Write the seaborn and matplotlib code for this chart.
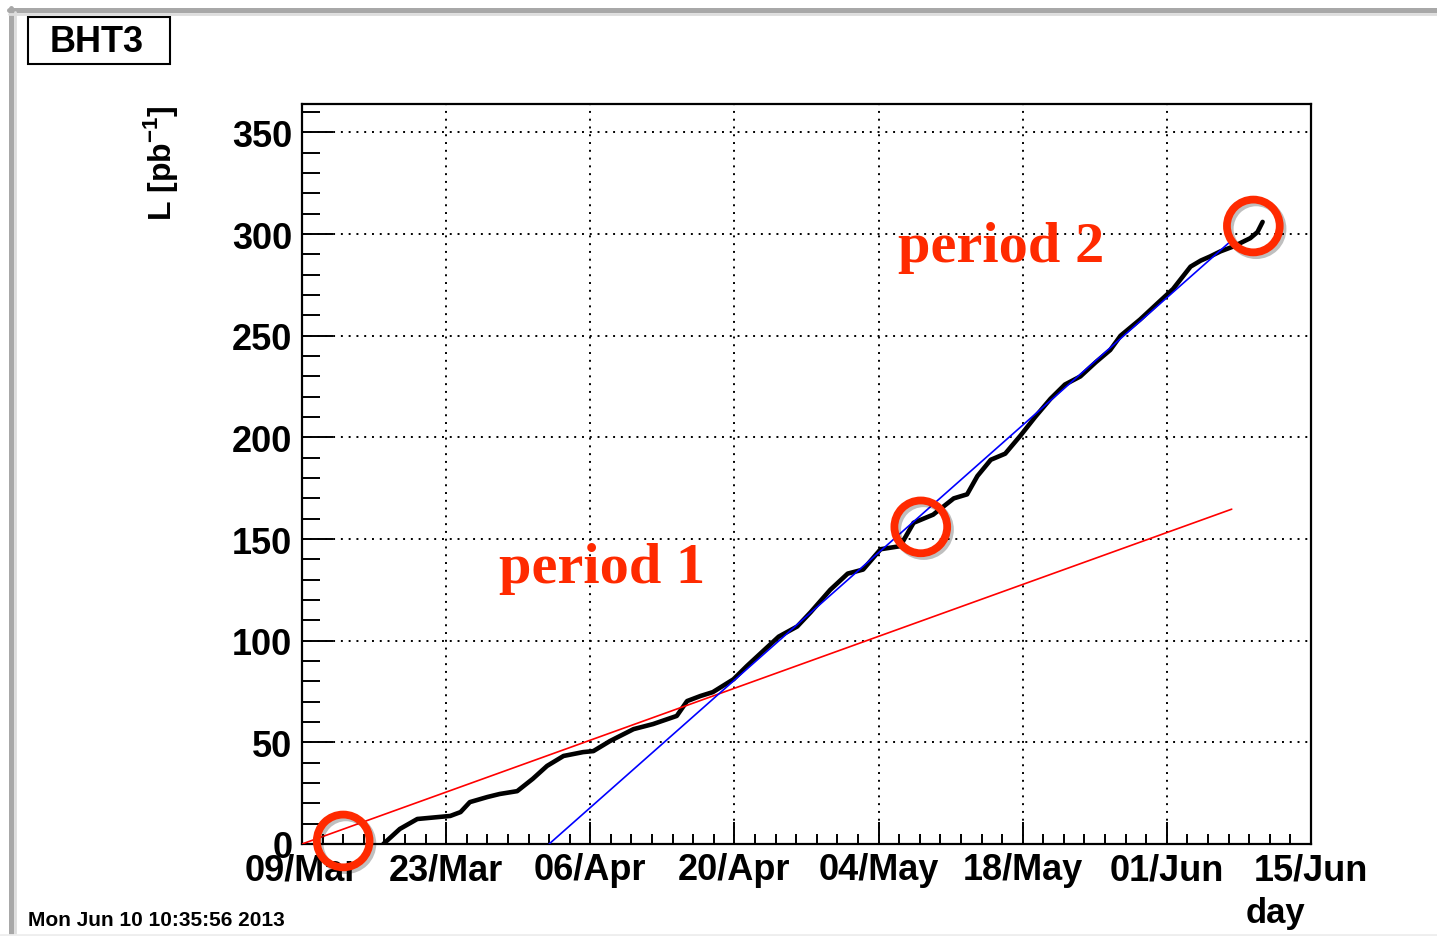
import matplotlib
matplotlib.use('Agg')
import matplotlib.pyplot as plt
import matplotlib.patheffects as pe
from matplotlib.lines import Line2D
from matplotlib.patches import Rectangle
from matplotlib.ticker import MultipleLocator
import numpy as np
import pandas as pd
import seaborn as sns

# cumulative luminosity, days counted from 09/Mar
days = [7.9, 9.5, 11.2, 14.4, 15.4, 16.3, 18.0, 19.2, 20.9, 22.4, 23.8, 25.4,
        27.3, 28.3, 29.9, 32.2, 34.1, 36.4, 37.4, 38.7, 39.9, 41.9, 43.2, 46.3,
        48.1, 49.4, 51.3, 53.0, 54.5, 56.2, 58.1, 59.4, 61.3, 63.3, 64.6, 65.6,
        66.9, 68.3, 69.8, 71.2, 72.7, 74.1, 75.6, 77.1, 78.5, 79.5, 81.4, 83.1,
        84.6, 86.3, 87.3, 88.2, 89.2, 90.5, 92.1, 92.8, 93.3]
lumi = [0, 7.4, 12.3, 13.8, 15.7, 20.6, 23.1, 24.6, 26.0, 32.0, 38.4, 43.3,
        45.2, 45.7, 50.6, 56.5, 59.0, 63.0, 70.3, 72.8, 74.7, 81.0, 87.5, 102,
        107, 114, 125, 133, 135, 145, 146.5, 158, 162, 170, 172, 181,
        189, 192, 201, 210, 219, 226, 230, 237, 243, 250, 258, 266,
        273, 284, 287, 289, 291.5, 294, 298, 301, 306]

# linear fits for the two periods
fit1_days = [0, 90.3]
fit1_lumi = [0, 164.7]
fit2_days = [24.0, 90.4]
fit2_lumi = [0, 297.4]

# highlighted points
mark_days = [4.0, 60.1, 92.4]
mark_lumi = [1.5, 156, 304]

tick_days = [0, 14, 28, 42, 56, 70, 84, 98]
tick_labels = ['09/Mar', '23/Mar', '06/Apr', '20/Apr', '04/May', '18/May', '01/Jun', '15/Jun']

sns.set_style('ticks')
plt.rcParams['font.family'] = ['Liberation Sans', 'DejaVu Sans']
plt.rcParams['mathtext.fontset'] = 'custom'
plt.rcParams['mathtext.rm'] = 'Liberation Sans'
plt.rcParams['mathtext.bf'] = 'Liberation Sans:bold'
plt.rcParams['text.color'] = 'black'
plt.rcParams['axes.labelcolor'] = 'black'
plt.rcParams['xtick.color'] = 'black'
plt.rcParams['ytick.color'] = 'black'
plt.rcParams['axes.edgecolor'] = 'black'

W, H = 1437, 937
fig = plt.figure(figsize=(W / 100, H / 100), dpi=100)
ax = fig.add_axes([302 / W, 1 - 845 / H, (1311 - 302) / W, (845 - 105) / H])

df = pd.DataFrame({'day': days, 'L': lumi})
sns.lineplot(data=df, x='day', y='L', ax=ax, color='black', lw=3.3,
             sort=False, zorder=3)
sns.lineplot(x=fit1_days, y=fit1_lumi, ax=ax, color='#ff0000', lw=1.2, zorder=4)
sns.lineplot(x=fit2_days, y=fit2_lumi, ax=ax, color='#0000ff', lw=1.2, zorder=4)

ax.plot(mark_days, mark_lumi, ls='none', marker='o', ms=38, mfc='none',
        mec='#ff2a00', mew=5.6, clip_on=False, zorder=6,
        path_effects=[pe.SimpleLineShadow(offset=(2, -2), alpha=0.25), pe.Normal()])

ax.set_xlim(0, 98)
ax.set_ylim(0, 364)
ax.set_xticks(tick_days)
ax.set_xticklabels(tick_labels)
ax.xaxis.set_minor_locator(MultipleLocator(2))
ax.yaxis.set_major_locator(MultipleLocator(50))
ax.yaxis.set_minor_locator(MultipleLocator(10))
ax.set_xlabel('')
ax.set_ylabel('')

ax.grid(True, which='major', color='black', ls=(0, (1, 3)), lw=1.4)
for s in ax.spines.values():
    s.set_linewidth(1.6)
    s.set_color('black')
    s.set_visible(True)
ax.tick_params(axis='both', which='both', direction='in', width=1.4,
               labelsize=26, top=False, right=False, colors='black')
ax.tick_params(axis='y', which='major', length=22, pad=7)
ax.tick_params(axis='y', which='minor', length=13)
ax.tick_params(axis='x', which='major', length=16, pad=6)
ax.tick_params(axis='x', which='minor', length=7)
for lab in ax.get_xticklabels() + ax.get_yticklabels():
    lab.set_fontweight('bold')

ax.text(0.1952, 0.354, 'period 1', transform=ax.transAxes, color='#ff2a00',
        fontsize=42, fontweight='bold', family='Liberation Serif',
        ha='left', va='baseline', zorder=5)
ax.text(0.5907, 0.788, 'period 2', transform=ax.transAxes, color='#ff2a00',
        fontsize=42, fontweight='bold', family='Liberation Serif',
        ha='left', va='baseline', zorder=5)

# axis titles
fig.text(160 / W, 1 - 105 / H, r'L [pb$^{\mathbf{-1}}$]', rotation=90,
         ha='center', va='top', fontsize=23, fontweight='bold')
fig.text(1305 / W, 1 - 914 / H, 'day', ha='right', va='center',
         fontsize=25, fontweight='bold')
fig.text(28 / W, 1 - 921 / H, 'Mon Jun 10 10:35:56 2013', ha='left',
         va='center', fontsize=15, fontweight='bold')

# title box
fig.add_artist(Rectangle((28 / W, 1 - 65 / H), 142 / W, 47 / H,
                         transform=fig.transFigure, fill=False,
                         edgecolor='black', lw=1.5))
fig.text(97 / W, 1 - 42 / H, 'BHT3', ha='center', va='center',
         fontsize=26, fontweight='bold')

# canvas frame
fig.add_artist(Line2D([9 / W, 1], [1 - 11 / H, 1 - 11 / H],
                      transform=fig.transFigure, color='#a8a8a8', lw=3.6))
fig.add_artist(Line2D([11 / W, 11 / W], [0, 1 - 9 / H],
                      transform=fig.transFigure, color='#a8a8a8', lw=3.6))
fig.add_artist(Line2D([9 / W, 1], [1 - 15 / H, 1 - 15 / H],
                      transform=fig.transFigure, color='#dddddd', lw=2))
fig.add_artist(Line2D([15 / W, 15 / W], [0, 1 - 13 / H],
                      transform=fig.transFigure, color='#dddddd', lw=2))
fig.add_artist(Line2D([0, 1], [1 / H, 1 / H],
                      transform=fig.transFigure, color='#eeeeee', lw=2))

fig.savefig('out.png', dpi=100)
